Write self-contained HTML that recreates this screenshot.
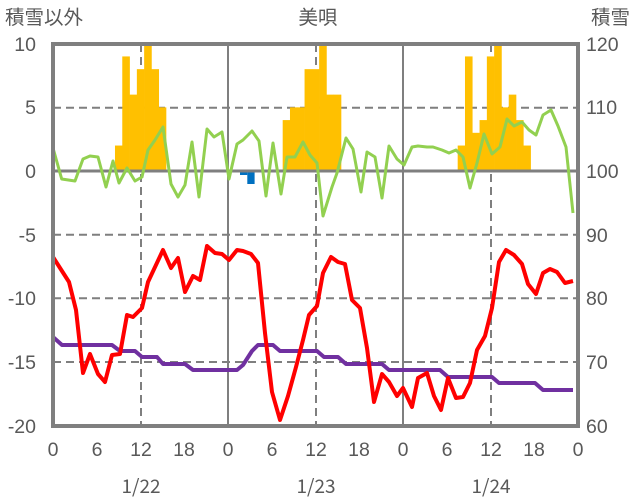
<!DOCTYPE html>
<html><head><meta charset="utf-8"><style>body{margin:0;background:#fff}svg{display:block}text{font-family:"Liberation Sans","Noto Sans CJK JP",sans-serif;fill:#595959;font-size:19.5px}.cjk{font-family:"Noto Sans CJK JP",sans-serif;font-size:19px}</style></head><body>
<svg width="636" height="501" viewBox="0 0 636 501">
<g stroke="#7f7f7f" stroke-width="2" stroke-dasharray="8,5" fill="none">
<line x1="53" y1="107.7" x2="578" y2="107.7"/><line x1="53" y1="234.7" x2="578" y2="234.7"/><line x1="53" y1="298.3" x2="578" y2="298.3"/><line x1="53" y1="362" x2="578" y2="362"/>
<line x1="141" y1="44" x2="141" y2="426"/><line x1="316" y1="44" x2="316" y2="426"/><line x1="491" y1="44" x2="491" y2="426"/>
</g>
<g stroke="#7f7f7f" stroke-width="2"><line x1="228" y1="44" x2="228" y2="426"/><line x1="403" y1="44" x2="403" y2="426"/></g>
<g fill="#ffc000" id="bars"></g>
<g fill="#0070c0"><rect x="240" y="171" width="7.3" height="4"/><rect x="247.3" y="171" width="7.3" height="13"/></g>
<line x1="53" y1="171" x2="578" y2="171" stroke="#7f7f7f" stroke-width="3"/>
<polyline fill="none" stroke="#92d050" stroke-width="3" stroke-linejoin="round" points="53,148 61.7,179 75,181 83,159 90,156 98,157 106,187 113,161 119,183 127,168 135,181 142,177 148,150 155,140 163,127 171,184 178,197 185,185 192,142 199,197 207,129 214,137 222,132 229,179 237,144 243,140 252,131 259,141 266,196 273,143 281,194 287,157 295,157 303,142 310,155 317,163 323,216 332,187 337,173 346,138 353,149 361,192 367,152 375,157 382,198 389,146 397,159 404,165 412,147 418,146 427,147 433,147 442,150 449,153 456,150 463,157 470,188 477,163 484,134 492,154 500,147 507,119 514,126 522,122 529,130 536,135 543,115 551,110 558,126 566,147 573,213"/>
<polyline fill="none" stroke="#7030a0" stroke-width="4" stroke-linejoin="round" points="53,337 62,345 112,345 120,351 135,351 142,357 157,357 163,364 185,364 193,370 237,370 243,365 252,351 258,345 273,345 280,351 317,351 324,357 338,357 346,364 382,364 389,370 440,370 448,377 492,377 499,383 535,383 543,390 573,390"/>
<polyline fill="none" stroke="#ff0000" stroke-width="4" stroke-linejoin="round" points="53,257 69,282 76,310 83,373 90,354 98,374 105,382 112,355 120,354 127,315 133,317 142,308 148,282 163,250 171,268 178,258 185,292 193,276 200,280 207,246 215,253 222,254 229,260 237,250 243,251 251,254 258,263 265,333 272,392 280,420 288,396 296,367 303,340 309,315 317,306 323,273 331,257 338,262 345,264 352,300 360,308 367,348 374,402 382,374 389,382 397,396 403,388 412,407 418,378 427,373 434,396 441,410 448,378 456,398 463,397 470,383 477,350 485,336 492,308 499,262 506,250 514,255 522,264 528,284 536,294 543,273 550,269 557,272 565,283 573,281"/>
<rect x="53" y="44" width="525" height="382" fill="none" stroke="#7f7f7f" stroke-width="4"/>
<text x="5" y="24">積雪以外</text><text x="318" y="24" text-anchor="middle">美唄</text><text x="630" y="24" text-anchor="end">積雪</text>
<g text-anchor="end"><text x="36" y="51">10</text><text x="36" y="114">5</text><text x="36" y="178">0</text><text x="36" y="242">-5</text><text x="36" y="305">-10</text><text x="36" y="369">-15</text><text x="36" y="433">-20</text></g>
<g><text x="586" y="51">120</text><text x="586" y="114">110</text><text x="586" y="178">100</text><text x="586" y="242">90</text><text x="586" y="305">80</text><text x="586" y="369">70</text><text x="586" y="433">60</text></g>
<g text-anchor="middle"><text x="53" y="456">0</text><text x="97" y="456">6</text><text x="141" y="456">12</text><text x="184" y="456">18</text><text x="228" y="456">0</text><text x="272" y="456">6</text><text x="316" y="456">12</text><text x="359" y="456">18</text><text x="403" y="456">0</text><text x="447" y="456">6</text><text x="491" y="456">12</text><text x="534" y="456">18</text><text x="578" y="456">0</text>
<text class="cjk" x="141" y="493">1/22</text><text class="cjk" x="316" y="493">1/23</text><text class="cjk" x="491" y="493">1/24</text></g>
</svg>
<script>
var d=[[9,2],[10,9],[11,6],[12,8],[13,10],[14,8],[15,5],[32,4],[33,5],[34,5],[35,8],[36,8],[37,10],[38,6],[39,6],[56,2],[57,9],[58,3],[59,4],[60,9],[61,10],[62,5],[63,6],[64,4],[65,2]];
var g=document.getElementById('bars'),s='';
d.forEach(function(b){var w=525/72,x=53+(b[0]-0.5)*w,h=b[1]*12.73;s+='<rect x="'+x+'" y="'+(171-h)+'" width="'+(w+0.3)+'" height="'+h+'"/>';});
g.innerHTML=s;
</script>
</body></html>
